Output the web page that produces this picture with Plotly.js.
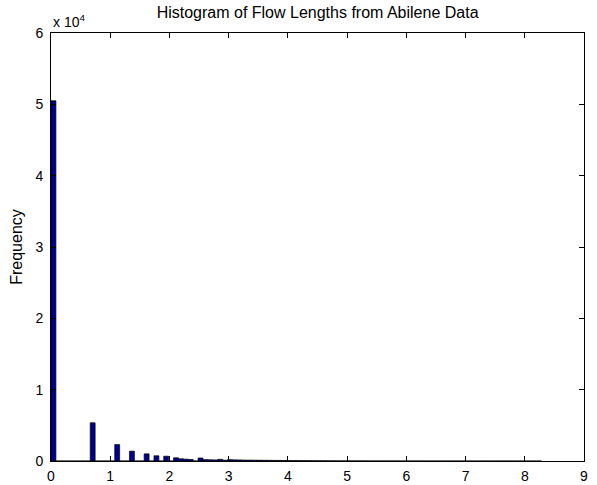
<!DOCTYPE html>
<html>
<head>
<meta charset="utf-8">
<script src="https://cdn.plot.ly/plotly-3.0.1.min.js"></script>
<style>html,body{margin:0;padding:0;background:#fff;}#chart{width:597px;height:485px;}</style>
</head>
<body>
<div id="chart"></div>
<script>
// Histogram of ln(flow length): 100 bins starting at 0
const binStart = 0;
const binWidth = 0.0828;
const binCounts = [
  50500, 0, 0, 0, 0, 0, 0, 0, 5360, 0,
  0, 0, 0, 2300, 0, 0, 1380, 0, 0, 1000,
  0, 730, 0, 670, 0, 450, 310, 260, 210, 0,
  420, 190, 170, 150, 230, 110, 190, 160, 150, 130,
  120, 115, 110, 100, 95, 85, 80, 70, 62, 55,
  50, 45, 40, 36, 32, 28, 25, 22, 20, 18,
  16, 14, 12, 11, 10, 9, 8, 7, 6, 6,
  5, 4, 4, 3, 3, 3, 2, 2, 2, 1,
  1, 1, 1, 0, 1, 1, 0, 0, 1, 0,
  0, 1, 0, 0, 0, 0, 0, 0, 0, 1
];
const xTicks = [0,1,2,3,4,5,6,7,8,9];
const yTickVals = [0,10000,20000,30000,40000,50000,60000];
const yTickText = ['0','1','2','3','4','5','6'];
const titleText = 'Histogram of Flow Lengths from Abilene Data';
const yTitle = 'Frequency';
const exponentText = 'x 10<sup>4</sup>';

const centers = binCounts.map((_, i) => binStart + (i + 0.5) * binWidth);

const font = "Liberation Sans, Arial, Helvetica, sans-serif";

Plotly.newPlot('chart', [{
  type: 'bar',
  x: centers,
  y: binCounts,
  width: binWidth,
  marker: {color: 'rgb(0,0,143)', line: {color: '#000', width: 0.7}},
  hoverinfo: 'x+y'
}], {
  width: 597, height: 485,
  margin: {l: 51, r: 13, t: 33, b: 24, pad: 0},
  paper_bgcolor: '#fff', plot_bgcolor: '#fff',
  showlegend: false,
  bargap: 0,
  font: {family: font, size: 14, color: '#000'},
  title: {text: titleText, font: {family: font, size: 16, color: '#000'},
          x: 0.532, xanchor: 'center', y: 0.975, yanchor: 'middle'},
  xaxis: {
    range: [0, 9], tickvals: xTicks, ticktext: xTicks.map(String),
    ticks: 'inside', ticklen: 5, tickcolor: '#000', tickwidth: 1,
    showline: true, linecolor: '#000', linewidth: 1, mirror: 'ticks',
    showgrid: false, zeroline: false, ticklabelstandoff: 2,
    tickfont: {family: font, size: 14, color: '#000'}
  },
  yaxis: {
    range: [0, 60000], tickvals: yTickVals, ticktext: yTickText,
    ticks: 'inside', ticklen: 5, tickcolor: '#000', tickwidth: 1,
    showline: true, linecolor: '#000', linewidth: 1, mirror: 'ticks',
    showgrid: false, zeroline: false, ticklabelstandoff: 4,
    title: {text: yTitle, font: {family: font, size: 16, color: '#000'}, standoff: 8},
    tickfont: {family: font, size: 14, color: '#000'}
  },
  annotations: [{
    text: exponentText, xref: 'paper', yref: 'paper', x: 0, y: 1,
    xanchor: 'left', yanchor: 'bottom', showarrow: false, yshift: 1,
    font: {family: font, size: 14, color: '#000'}
  }]
}, {staticPlot: true});
</script>
</body>
</html>
